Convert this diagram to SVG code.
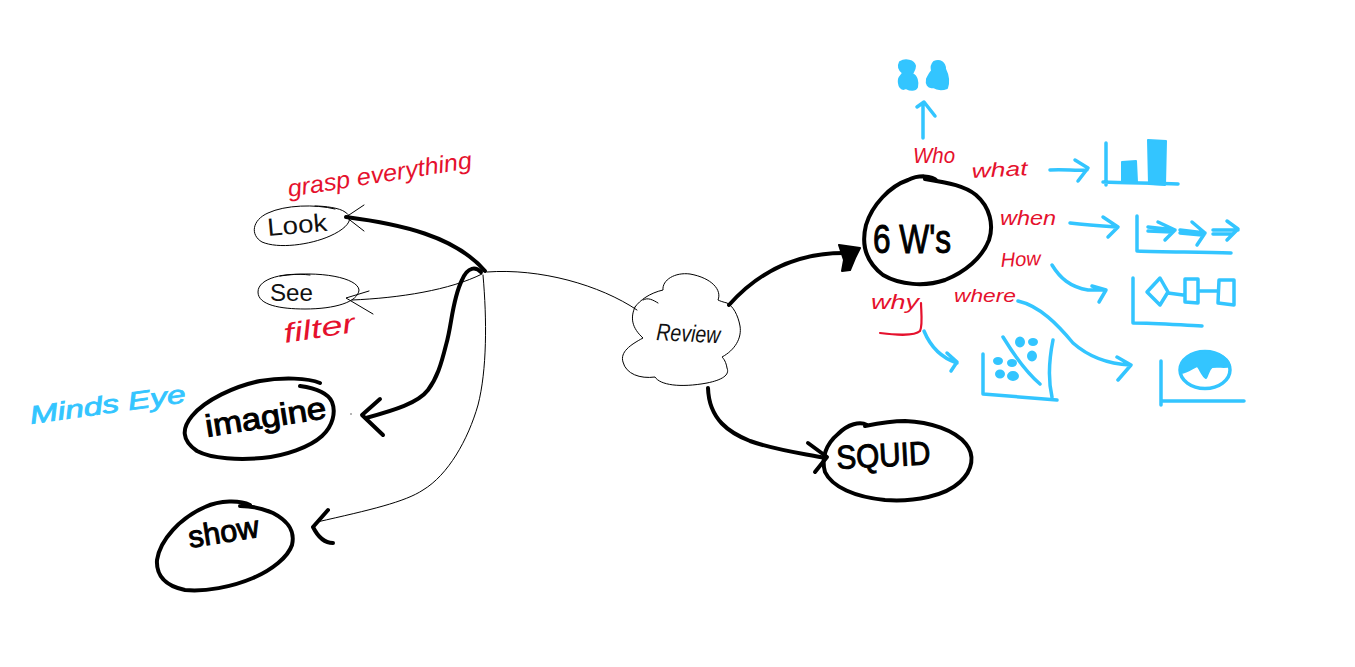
<svg xmlns="http://www.w3.org/2000/svg" width="1355" height="667" viewBox="0 0 1355 667">
<style>
path,line{fill:none;stroke-linecap:round;stroke-linejoin:round}
.k1{stroke:#000;stroke-width:1}
.k4{stroke:#000;stroke-width:4}
.c{stroke:#33c5ff;stroke-width:3.500}
path.cf,ellipse.cf{fill:#33c5ff;stroke:#33c5ff;stroke-width:2}
path.kf{fill:#000;stroke:#000;stroke-width:2}
.r{stroke:#e5112d;stroke-width:2.200}
text{font-family:"Liberation Sans","DejaVu Sans",sans-serif}
.tk{fill:#000;stroke:#000;stroke-width:1}
.tt{fill:#111}
.tr{fill:#e5112d;font-style:italic}
.tc{fill:#33c5ff;font-style:italic;stroke:#33c5ff;stroke-width:0.800}
</style>
<rect width="1355" height="667" fill="#fff"/>
<g id="connectors">
<path class="k1" d="M487 272C540 268 600 285 637 310"/>
<path class="k4" d="M346 217C400 224 455 236 485 271"/>
<path class="k1" d="M364 205L346 217L364 231"/>
<path class="k1" d="M482 274C450 290 400 298 352 300"/>
<path class="k1" d="M369 291L346 298L373 314"/>
<path class="k4" d="M481 272C476 267 468 266 462 280C452 300 452 325 446 345C441 365 437 378 428 390C418 403 395 410 366 418"/>
<path class="k4" d="M380 399L362 415L383 435"/>
<path class="k1" d="M483 275C487 320 487 370 478 405C468 440 448 475 423 490C405 502 370 510 317 522"/>
<path class="k4" d="M328 510L313 527C318 537 325 543 333 543"/>
<path class="k4" d="M729 305C760 270 800 252 848 253"/>
<path class="kf" d="M839 245L860 248L855 258L850 270L842 271L844 260Z"/>
<path class="k4" d="M708 388C709 420 730 433 750 441C775 450 800 453 825 458"/>
<path class="k4" d="M808 443L827 457L815 472"/>
<path class="c" d="M923 138V104M917 107L924 102L935 116"/>
<path class="c" d="M1050 170C1065 169 1075 171 1087 170M1075 160L1088 168L1078 181"/>
<path class="c" d="M1070 223C1085 225 1100 226 1117 227M1103 217L1118 227L1108 237"/>
<path class="c" d="M1052 265C1060 278 1070 287 1088 290C1095 290 1100 290 1105 290M1092 286L1106 290L1099 302"/>
<path class="c" d="M924 331C931 348 942 358 957 363M947 353L957 362L951 371"/>
<path class="c" d="M1018 301C1040 306 1058 325 1073 343C1090 358 1110 364 1130 365M1117 357L1131 365L1118 380"/>
<path class="r" d="M880 333C895 335 915 336 920 331C923 325 921 310 921 303"/>
<circle cx="351" cy="414" r="0.7" fill="#333"/>
</g>
<g id="node-review">
<path class="k1" d="M635 307C630 318 632 328 643 338C630 345 620 352 623 362C626 374 640 379 655 377C660 385 680 388 707 383C722 380 730 375 727 368C726 362 724 359 722 357C735 350 742 338 740 326C738 315 733 306 727 303C723 302 720 301 718 300C722 290 712 278 690 274C675 272 662 280 663 290C650 293 640 300 635 307M643 300C648 297 653 300 658 303"/>
<text class="tt" x="656" y="340" font-size="24" textLength="64" lengthAdjust="spacingAndGlyphs" transform="rotate(3 656 340)" font-style="italic">Review</text>
</g>
<g id="node-look">
<path class="k1" d="M335 209C315 204 285 205 268 213C252 220 250 235 262 242C278 249 310 245 330 236C348 228 355 218 345 212C340 208 325 206 315 206"/>
<text class="tt" x="268" y="236" font-size="25" textLength="60" lengthAdjust="spacingAndGlyphs" transform="rotate(-5 268 236)">Look</text>
</g>
<g id="node-see">
<path class="k1" d="M310 275C285 272 258 278 258 292C258 305 280 309 305 309C335 309 358 302 359 290C358 278 320 270 280 276"/>
<text class="tt" x="270" y="301" font-size="24" textLength="43" lengthAdjust="spacingAndGlyphs">See</text>
</g>
<g id="node-imagine">
<path class="k4" d="M320 383C308 378 283 377 260 381C235 386 205 400 192 416C182 428 181 440 197 451C212 459 240 460 262 458C285 456 310 447 322 436C333 426 336 412 332 402C328 393 315 388 300 386"/>
<text class="tk" x="207" y="437" font-size="31" textLength="122" lengthAdjust="spacingAndGlyphs" transform="rotate(-9 207 437)">imagine</text>
</g>
<g id="node-show">
<path class="k4" d="M250 505C240 500 220 500 205 507C180 518 160 540 157 560C156 575 165 586 185 590C205 592 232 587 253 578C272 570 288 557 292 545C295 532 290 522 273 513C262 508 250 506 240 506"/>
<text class="tk" x="190" y="548" font-size="31" textLength="71" lengthAdjust="spacingAndGlyphs" transform="rotate(-9 190 548)">show</text>
</g>
<g id="node-6ws">
<path class="k4" d="M937 181C932 175 918 175 908 180C890 186 872 205 866 225C861 245 866 262 883 275C900 285 925 287 945 280C965 272 982 258 989 240C994 225 990 207 976 195C965 186 950 183 925 179"/>
<text class="tk" x="873" y="253" font-size="40" textLength="78" lengthAdjust="spacingAndGlyphs">6 W's</text>
</g>
<g id="node-squid">
<path class="k4" d="M867 425C860 421 848 424 838 434C826 444 821 458 825 472C832 487 855 497 885 500C915 502 945 496 960 482C973 470 975 455 966 444C955 430 930 422 905 421C890 421 875 424 865 426"/>
<text class="tk" x="837" y="469" font-size="33" textLength="94" lengthAdjust="spacingAndGlyphs" transform="rotate(-3 837 469)">SQUID</text>
</g>
<g id="note-grasp"><text class="tr" x="289" y="197" font-size="24" textLength="186" lengthAdjust="spacingAndGlyphs" transform="rotate(-9 289 197)">grasp everything</text></g>
<g id="note-filter"><text class="tr" x="285" y="343" font-size="27" textLength="72" lengthAdjust="spacingAndGlyphs" transform="rotate(-9 285 343)">filter</text></g>
<g id="note-minds"><text class="tc" x="31" y="424" font-size="25" textLength="157" lengthAdjust="spacingAndGlyphs" transform="rotate(-8 31 424)">Minds Eye</text></g>
<g id="label-who"><text class="tr" x="913" y="163" font-size="22" textLength="42" lengthAdjust="spacingAndGlyphs">Who</text></g>
<g id="label-what"><text class="tr" x="972" y="178" font-size="20" textLength="56" lengthAdjust="spacingAndGlyphs" transform="rotate(-3 972 178)">what</text></g>
<g id="label-when"><text class="tr" x="1000" y="225" font-size="21" textLength="56" lengthAdjust="spacingAndGlyphs">when</text></g>
<g id="label-how"><text class="tr" x="1001" y="267" font-size="20" textLength="40" lengthAdjust="spacingAndGlyphs" transform="rotate(-3 1001 267)">How</text></g>
<g id="label-why"><text class="tr" x="871" y="309" font-size="20" textLength="48" lengthAdjust="spacingAndGlyphs">why</text></g>
<g id="label-where"><text class="tr" x="954" y="302" font-size="19" textLength="62" lengthAdjust="spacingAndGlyphs">where</text></g>
<g id="people">
<path class="cf" d="M900 62C905 59 914 60 915 66C915 70 913 72 912 74C917 76 918 82 917 87C915 91 910 90 906 88C901 91 898 85 899 79C900 76 902 75 903 73C899 70 898 66 900 62Z"/>
<path class="cf" d="M934 62C940 59 945 63 945 69C948 75 949 82 947 88C942 90 938 90 933 87C928 88 926 84 927 79C929 75 931 72 932 71C931 67 932 64 934 62Z"/>
</g>
<g id="chart-bar">
<path class="c" d="M1106 143V185M1103 182C1125 183 1155 183 1178 184"/>
<path class="cf" d="M1122 162L1136 161L1137 182L1122 182Z"/>
<path class="cf" d="M1148 140L1166 141L1165 185L1149 184Z"/>
</g>
<g id="chart-arrows">
<path class="c" d="M1137 216L1137 251C1165 252 1200 252 1231 253"/>
<path class="c" d="M1148 227L1175 230M1148 231L1172 232M1158 222L1175 230L1165 240"/>
<path class="c" d="M1180 230L1205 233M1180 233L1202 235M1192 222L1205 233L1197 245"/>
<path class="c" d="M1213 230L1238 230M1213 234L1232 234M1227 221L1238 229L1227 240"/>
</g>
<g id="chart-flow">
<path class="c" d="M1133 278L1133 323C1155 323 1180 325 1202 326"/>
<path class="c" d="M1160 278L1168 292L1160 305L1147 292ZM1168 293L1183 295M1185 279L1198 279L1198 303L1185 302ZM1198 291L1218 291M1219 280L1234 280L1234 305L1218 303Z"/>
</g>
<g id="chart-scatter">
<path class="c" d="M983 354L983 394C1005 396 1030 398 1057 400M1053 340C1049 360 1048 380 1052 397M1003 337C1014 355 1026 372 1040 384"/>
<ellipse class="cf" cx="1020" cy="342" rx="4" ry="4.500"/>
<ellipse class="cf" cx="1033" cy="342" rx="4" ry="3"/>
<ellipse class="cf" cx="1032" cy="356" rx="4" ry="4.500"/>
<ellipse class="cf" cx="998" cy="361" rx="4" ry="3"/>
<ellipse class="cf" cx="1012" cy="363" rx="4" ry="3"/>
<ellipse class="cf" cx="1000" cy="374" rx="4" ry="3.500"/>
<ellipse class="cf" cx="1013" cy="376" rx="5" ry="4"/>
</g>
<g id="chart-map">
<path class="c" d="M1161 361L1161 405M1163 401C1190 401 1220 401 1244 401"/>
<ellipse cx="1205" cy="370" rx="25" ry="18.500" fill="none" stroke="#33c5ff" stroke-width="3.500"/>
<path class="cf" d="M1181 373C1179 362 1188 353 1203 352C1215 352 1228 356 1230 366C1226 368 1219 366 1212 367C1208 370 1208 375 1206 378C1202 376 1200 368 1197 366C1192 368 1188 372 1181 373Z"/>
</g>
</svg>
